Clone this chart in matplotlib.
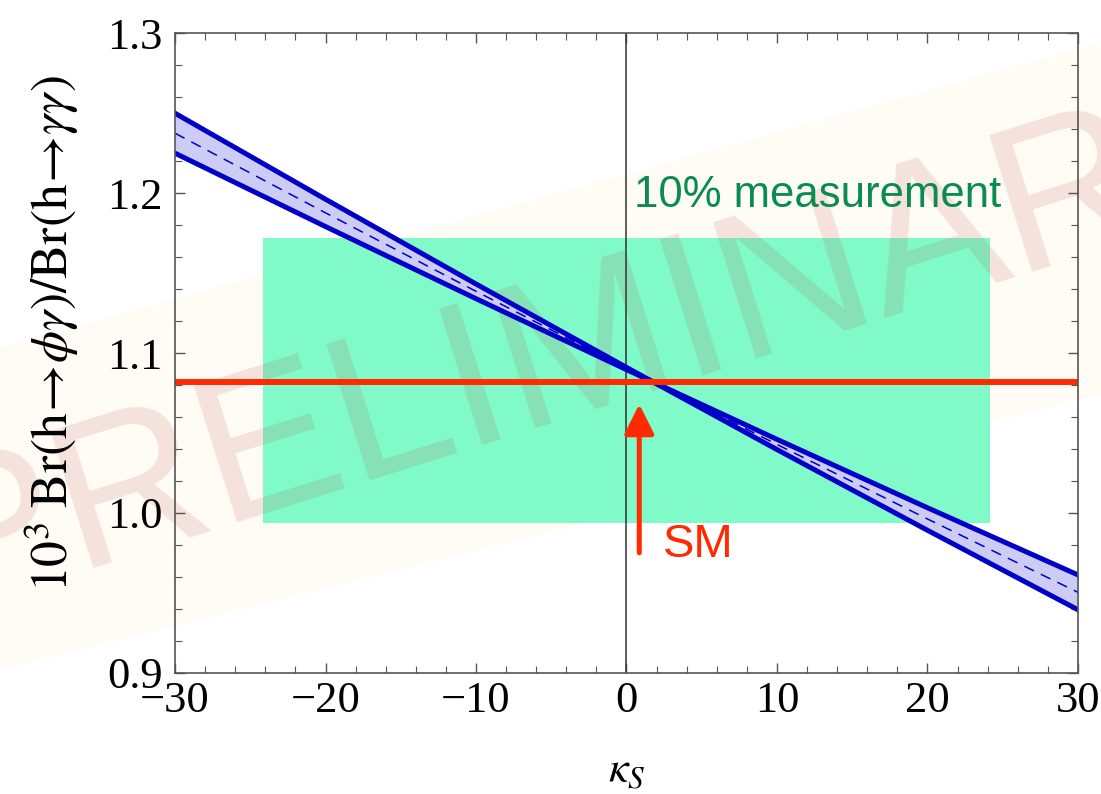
import numpy as np
import matplotlib
matplotlib.use('Agg')
import matplotlib.pyplot as plt
from matplotlib.patches import Polygon, Rectangle
from matplotlib.transforms import IdentityTransform
from matplotlib.ticker import MultipleLocator, FixedLocator, FixedFormatter

plt.rcParams['font.family'] = ['Liberation Serif', 'DejaVu Serif']
plt.rcParams['mathtext.fontset'] = 'stix'

# values
kappa = [-30, -20, -10, 0, 10, 20, 30]
br_a = [1.2500, 1.1962, 1.1432, 1.0910, 1.0396, 0.9891, 0.9394]
br_b = [1.2250, 1.1791, 1.1340, 1.0896, 1.0460, 1.0032, 0.9612]
br_mid = [1.2375, 1.1877, 1.1386, 1.0903, 1.0428, 0.9962, 0.9503]
sm_value = 1.0817
meas_x = [-24.15, 24.15]
meas_y = [0.9936, 1.1718]
arrow_x = 0.85
arrow_y = [0.975, 1.068]
xticks = [-30, -20, -10, 0, 10, 20, 30]
xticklabels = ['\u221230', '\u221220', '\u221210', '0', '10', '20', '30']
yticks = [0.9, 1.0, 1.1, 1.2, 1.3]
yticklabels = ['0.9', '1.0', '1.1', '1.2', '1.3']

blue = '#0000c8'
red = '#ff2a00'
green_box = '#80fac8'
green_txt = '#0a8c50'

fig = plt.figure(figsize=(11.01, 7.94), dpi=100)
ax = fig.add_axes([0.159, 0.1528, 0.820, 0.8052])
ax.set_facecolor('none')

# watermark band and text (pixel coordinates, figure decoration)
band = Polygon([[-10, 794 - 672], [1110, 794 - 392], [1110, 794 - 40], [-10, 794 - 350]],
               closed=True, transform=IdentityTransform(), facecolor='#fefcf4',
               edgecolor='none', zorder=0.5, clip_on=False)
ax.add_patch(band)
ax.text(600, 794 - 345, 'PRELIMINARY', transform=IdentityTransform(),
        family=['Liberation Sans', 'DejaVu Sans'], fontsize=150, rotation=17.5,
        rotation_mode='anchor', ha='center', va='center',
        color=(0.75, 0.2, 0.25), alpha=0.13, zorder=1.5, clip_on=False)

# measurement box
ax.add_patch(Rectangle((meas_x[0], meas_y[0]), meas_x[1] - meas_x[0], meas_y[1] - meas_y[0],
                       facecolor=green_box, edgecolor='none', zorder=1))

ax.axvline(0, color='#333333', lw=1.1, zorder=2)

ax.fill_between(kappa, br_a, br_b, color='#ccccf4', lw=0, zorder=3)
ax.plot(kappa, br_a, color=blue, lw=3.6, zorder=4)
ax.plot(kappa, br_b, color=blue, lw=3.6, zorder=4)
ax.plot(kappa, br_mid, color=blue, lw=1.1, dashes=(7, 5), zorder=4)

ax.axhline(sm_value, color=red, lw=4.3, zorder=5)
ax.annotate('', xy=(arrow_x, arrow_y[1]), xytext=(arrow_x, arrow_y[0]),
            arrowprops=dict(arrowstyle='-|>,head_length=0.9,head_width=0.45',
                            mutation_scale=20, color=red, lw=3.6,
                            shrinkA=0, shrinkB=0), zorder=5)

ax.text(2.4, 0.9725, 'SM', color=red, fontsize=34,
        family=['Liberation Sans', 'DejaVu Sans'], ha='left', va='baseline', zorder=6)
ax.text(0.5, 1.1914, '10% measurement', color=green_txt, fontsize=31.5,
        family=['Liberation Sans', 'DejaVu Sans'], ha='left', va='baseline', zorder=6)

ax.set_xlim(-30, 30)
ax.set_ylim(0.9, 1.3)
ax.xaxis.set_major_locator(FixedLocator(xticks))
ax.xaxis.set_major_formatter(FixedFormatter(xticklabels))
ax.yaxis.set_major_locator(FixedLocator(yticks))
ax.yaxis.set_major_formatter(FixedFormatter(yticklabels))
ax.xaxis.set_minor_locator(MultipleLocator(2))
ax.yaxis.set_minor_locator(MultipleLocator(0.02))
ax.tick_params(which='both', direction='in', top=True, right=True, color='#555555',
               labelsize=32)
ax.tick_params(which='major', length=7.5, width=1.0)
ax.tick_params(which='minor', length=5, width=0.8)
ax.tick_params(axis='x', pad=6)
ax.tick_params(axis='y', pad=9)
for s in ax.spines.values():
    s.set_color('#555555')
    s.set_linewidth(1.2)
    s.set_zorder(7)

ax.set_ylabel(r'$10^3\ \mathrm{Br(h}\!\rightarrow\!\phi\gamma\mathrm{)/Br(h}\!\rightarrow\!\gamma\gamma\mathrm{)}$',
              fontsize=37)
ax.yaxis.set_label_coords(-0.104, 0.53)
ax.set_xlabel(r'$\kappa_S$', fontsize=32, labelpad=22)

fig.savefig('out.png', dpi=100)
